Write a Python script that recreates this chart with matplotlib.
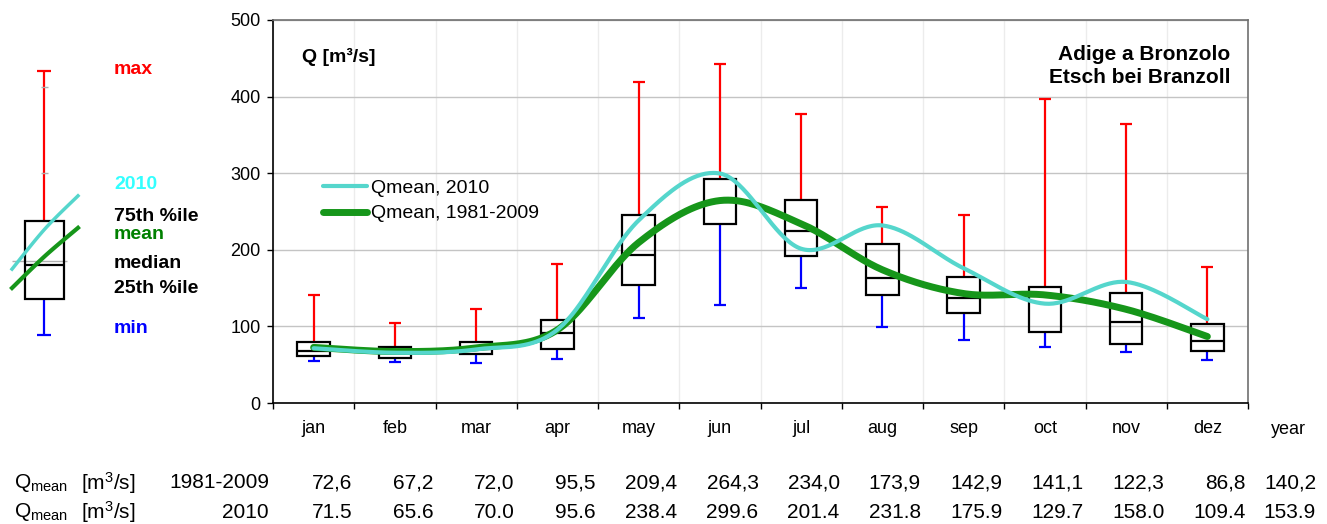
import numpy as np
import matplotlib
matplotlib.use("Agg")
from matplotlib import pyplot as plt

plt.rcParams['font.family'] = ['Liberation Sans', 'DejaVu Sans']
plt.rcParams['mathtext.fontset'] = 'custom'
plt.rcParams['mathtext.rm'] = 'Liberation Sans'
plt.rcParams['mathtext.it'] = 'Liberation Sans:italic'
plt.rcParams['mathtext.bf'] = 'Liberation Sans:bold'

# monthly discharge statistics, Adige at Bronzolo (m3/s)
months = ['jan', 'feb', 'mar', 'apr', 'may', 'jun', 'jul', 'aug', 'sep', 'oct', 'nov', 'dez']
q_max = [141, 104, 123, 181, 419, 442, 377, 256, 245, 397, 364, 178]
q_p75 = [80, 73, 79, 109, 246, 292, 265, 208, 164, 152, 143, 103]
q_med = [68, 66, 71, 91, 193, 262, 225, 163, 137, 141, 106, 81]
q_p25 = [62, 59, 64, 71, 154, 234, 192, 141, 117, 93, 77, 68]
q_min = [55, 53, 52, 58, 111, 128, 150, 99, 82, 73, 66, 56]

mean_8109 = [72.6, 67.2, 72.0, 95.5, 209.4, 264.3, 234.0, 173.9, 142.9, 141.1, 122.3, 86.8]
mean_2010 = [71.5, 65.6, 70.0, 95.6, 238.4, 299.6, 201.4, 231.8, 175.9, 129.7, 158.0, 109.4]
year_8109 = 140.2
year_2010 = 153.9

# schematic key (arbitrary units)
key_stats = dict(min=7.7, p25=19.2, med=29.6, p75=43.5, max=90.3)
key_mean_ref = 31.0
key_x = [12, 45, 78]
key_2010 = [28.4, 41.0, 51.3]
key_mean = [22.5, 32.5, 41.3]

CYAN = '#55d6cc'
GREEN = '#16961a'
W, H = 1327, 524


def smooth(x, y, n=40):
    """Excel-like smoothed line (Catmull-Rom through the points)."""
    x = np.asarray(x, float)
    y = np.asarray(y, float)
    px = np.concatenate([[x[0]], x, [x[-1]]])
    py = np.concatenate([[y[0]], y, [y[-1]]])
    xs, ys = [], []
    t = np.linspace(0, 1, n)
    for i in range(1, len(px) - 2):
        for arr, out in ((px, xs), (py, ys)):
            p0, p1, p2, p3 = arr[i - 1], arr[i], arr[i + 1], arr[i + 2]
            c1 = p1 + (p2 - p0) / 6
            c2 = p2 - (p3 - p1) / 6
            out.append((1 - t) ** 3 * p1 + 3 * (1 - t) ** 2 * t * c1 + 3 * (1 - t) * t ** 2 * c2 + t ** 3 * p2)
    return np.concatenate(xs), np.concatenate(ys)


def draw_boxes(ax, x, lo, p25, med, p75, hi, width, cap):
    x = np.asarray(x, float)
    ax.vlines(x, p75, hi, color='red', lw=1.6, zorder=2)
    ax.hlines(hi, x - cap / 2, x + cap / 2, color='red', lw=1.6, zorder=2)
    ax.vlines(x, lo, p25, color='blue', lw=1.6, zorder=2)
    ax.hlines(lo, x - cap / 2, x + cap / 2, color='blue', lw=1.6, zorder=2)
    ax.bar(x, np.subtract(p75, p25), bottom=p25, width=width, fill=False,
           edgecolor='black', lw=1.6, zorder=3)
    ax.hlines(med, x - width / 2, x + width / 2, color='black', lw=1.6, zorder=3)


def px2fig(x, y):
    return x / W, 1 - y / H


fig = plt.figure(figsize=(W / 100, H / 100), dpi=100)
l, b = px2fig(273, 403)
r, t = px2fig(1248, 20)
ax = fig.add_axes([l, b, r - l, t - b])

xc = np.arange(len(months)) + 0.5
draw_boxes(ax, xc, q_min, q_p25, q_med, q_p75, q_max, 0.4, 0.15)

sx, sy = smooth(xc, mean_2010)
ax.plot(sx, sy, color=CYAN, lw=3.0, solid_capstyle='round', zorder=5, label='Qmean, 2010')
sx, sy = smooth(xc, mean_8109)
ax.plot(sx, sy, color=GREEN, lw=5.0, solid_capstyle='round', zorder=4, label='Qmean, 1981-2009')

ax.set_xlim(0, 12)
ax.set_ylim(0, 500)
ax.set_yticks(range(0, 501, 100))
ax.set_xticks(np.arange(0, 13))
ax.set_xticklabels([])
ax.set_xticks(xc, minor=True)
ax.set_xticklabels(months, minor=True)
ax.tick_params(axis='x', which='major', direction='out', length=4, width=1, color='black')
ax.tick_params(axis='x', which='minor', length=0, pad=12, labelsize=13)
ax.tick_params(axis='y', direction='out', length=4, width=1, pad=5, labelsize=13)
ax.grid(axis='y', color='#c4c4c4', lw=1)
ax.grid(axis='x', which='major', color='#ececec', lw=1)
ax.set_axisbelow(True)
for side in ('left', 'bottom'):
    ax.spines[side].set_color('black')
    ax.spines[side].set_linewidth(1.2)
for side in ('top', 'right'):
    ax.spines[side].set_color('#707070')
    ax.spines[side].set_linewidth(1.2)

ax.text(0.03, 0.903, 'Q [m³/s]', transform=ax.transAxes, fontsize=14,
        fontweight='bold', va='center', ha='left')
ax.text(0.982, 0.88, 'Adige a Bronzolo\nEtsch bei Branzoll', transform=ax.transAxes,
        fontsize=15, fontweight='bold', va='center', ha='right', linespacing=1.25)
ax.text(12.5, -35, 'year', fontsize=13, ha='center', va='center')

ax.legend(loc='upper left', bbox_to_anchor=(0.051, 0.585), frameon=False,
          fontsize=14, handlelength=2.3, handletextpad=0.2, borderpad=0,
          borderaxespad=0, labelspacing=0.42)

# key panel on the left
kl, kb = px2fig(0, 360)
kr, kt = px2fig(230, 40)
kax = fig.add_axes([kl, kb, kr - kl, kt - kb])
kax.set_xlim(0, 230)
kax.set_ylim(0, 100)
kax.axis('off')
draw_boxes(kax, [44.5], [key_stats['min']], [key_stats['p25']], [key_stats['med']],
           [key_stats['p75']], [key_stats['max']], 39, 14)
kax.hlines(key_mean_ref, 12, 67, color='#b0b0b0', lw=1, zorder=2)
kax.hlines([85.4, 58.5], 41, 48, color='#b0b0b0', lw=1, zorder=3)
kx, ky = smooth(key_x, key_2010)
kax.plot(kx, ky, color=CYAN, lw=2.5, zorder=5)
kx, ky = smooth(key_x, key_mean)
kax.plot(kx, ky, color=GREEN, lw=3.0, zorder=4)
key_labels = [('max', 90.7, 'red'), ('2010', 54.7, '#33ffff'), ('75th %ile', 44.7, 'black'),
              ('mean', 39.1, '#008000'), ('median', 30.0, 'black'),
              ('25th %ile', 22.2, 'black'), ('min', 9.7, 'blue')]
for txt, yv, col in key_labels:
    kax.text(114, yv, txt, color=col, fontsize=14, fontweight='bold', va='center', ha='left')

# table of mean values below the chart
rows = [('1981-2009', mean_8109, year_8109, ','), ('2010', mean_2010, year_2010, '.')]
row_y = [483, 512]
for (lab, vals, yr, sep), yp in zip(rows, row_y):
    fy = 1 - yp / H
    fig.text(14 / W, fy, r'Q$_{\mathrm{mean}}$', fontsize=15, va='center', ha='left')
    fig.text(81 / W, fy, r'[m$^{3}$/s]', fontsize=15, va='center', ha='left')
    fig.text(269 / W, fy, lab, fontsize=15, va='center', ha='right')
    for i, v in enumerate(vals):
        xr = 273 + (i + 1) * 81.25 - 2
        fig.text(xr / W, fy, f'{v:.1f}'.replace('.', sep), fontsize=15, va='center', ha='right')
    fig.text(1316 / W, fy, f'{yr:.1f}'.replace('.', sep), fontsize=15, va='center', ha='right')

fig.savefig('out.png', dpi=100)
